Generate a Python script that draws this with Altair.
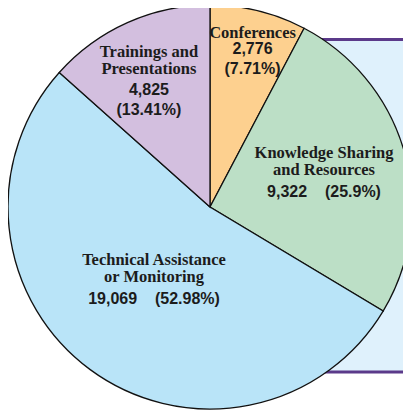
import altair as alt
import pandas as pd

categories = ["Conferences", "Knowledge Sharing and Resources",
              "Technical Assistance or Monitoring", "Trainings and Presentations"]
values = [2776, 9322, 19069, 4825]
name_line1 = ["", "Knowledge Sharing", "Technical Assistance", "Trainings and"]
name_line2 = ["Conferences", "and Resources", "or Monitoring", "Presentations"]
number_line1 = ["2,776", "9,322\u00a0\u00a0\u00a0\u00a0(25.9%)", "19,069\u00a0\u00a0\u00a0\u00a0(52.98%)", "4,825"]
number_line2 = ["(7.71%)", "", "", "(13.41%)"]
colors = ["#fdd08f", "#bcdfc6", "#b9e4f8", "#d3bfdf"]

df = pd.DataFrame({
    "category": categories,
    "value": values,
    "name1": name_line1,
    "name2": name_line2,
    "num1": number_line1,
    "num2": number_line2,
    "idx": list(range(len(categories))),
})

# label placement (styling): radius along the slice's mid angle, plus vertical nudges
LR = ("datum.category == 'Conferences' ? 177.2 : "
      "datum.category == 'Knowledge Sharing and Resources' ? 118.4 : "
      "datum.category == 'Technical Assistance or Monitoring' ? 94.4 : 149.4")
OY = ("datum.category == 'Conferences' ? 13.3 : "
      "datum.category == 'Knowledge Sharing and Resources' ? 15.5 : "
      "datum.category == 'Technical Assistance or Monitoring' ? 14.7 : 18.7")
GAP = "datum.category == 'Conferences' ? 15 : 20.5"

W, H = 395, 402          # plot area (page margin 8px); wider would shrink the svg
CX, CY = 202, 199        # pie centre inside the plot area
R = 202

arcs = alt.Chart(df).mark_arc(radius=R, stroke="#111111", strokeWidth=1.3).encode(
    theta=alt.Theta("value:Q", stack=True),
    order=alt.Order("idx:Q", sort="ascending"),
    color=alt.Color("category:N", scale=alt.Scale(domain=categories, range=colors), legend=None),
    x=alt.value(CX), y=alt.value(CY),
)

label_base = alt.Chart(df).transform_window(
    cum="sum(value)", sort=[alt.SortField("idx")], frame=[None, 0]
).transform_joinaggregate(
    total="sum(value)"
).transform_calculate(
    mid="2 * PI * (datum.cum - datum.value / 2) / datum.total",
    lr=LR, oy=OY, gap=GAP,
)


def text_layer(field, line_offset, font, size):
    return label_base.transform_calculate(
        rx="datum.lr * sin(datum.mid)",
        ry="-datum.lr * cos(datum.mid) + datum.oy + (" + line_offset + ")",
    ).transform_calculate(
        px=f"{CX} + datum.rx",
        py=f"{CY} + datum.ry",
    ).mark_text(
        font=font, fontWeight="bold", fontSize=size, color="#1c1c1c",
        baseline="middle", align="center",
    ).encode(
        x=alt.X("px:Q", scale=None),
        y=alt.Y("py:Q", scale=None),
        text=alt.Text(field + ":N"),
    )


name1 = text_layer("name1", "-datum.gap - 17", "Liberation Serif", 16.5)
name2 = text_layer("name2", "-datum.gap", "Liberation Serif", 16.5)
num1 = text_layer("num1", "1", "Liberation Sans", 16)
num2 = text_layer("num2", "21", "Liberation Sans", 16)

panel = alt.Chart(pd.DataFrame({"a": [0]})).mark_rect(
    fill="#dff1fc", stroke="#5b3a8a", strokeWidth=3
).encode(
    x=alt.value(250), x2=alt.value(430), y=alt.value(31.5), y2=alt.value(364)
)

chart = alt.layer(panel, arcs, name1, name2, num1, num2).properties(
    width=W, height=H, padding=0, autosize=alt.AutoSizeParams(type="none")
).configure_view(stroke=None)

chart.save("out.html", embed_options={"renderer": "svg", "actions": False})
